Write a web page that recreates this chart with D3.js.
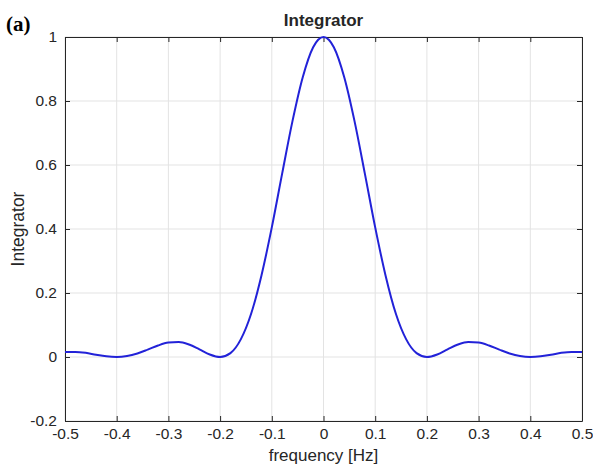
<!DOCTYPE html>
<html>
<head>
<meta charset="utf-8">
<script src="https://cdn.jsdelivr.net/npm/d3@7"></script>
<style>
  body { margin: 0; background: #fff; }
  svg text { font-family: "Liberation Sans", Arial, sans-serif; fill: #262626; }
</style>
</head>
<body>
<div id="chart"></div>
<script>
/**
 * CONSTANTS AND DATA
 * */
const width = 593,
  height = 469,
  margin = { top: 37, bottom: 48, left: 65, right: 11 };

// frequency samples [Hz] and the curve
const freq = [
  -0.50, -0.48, -0.46, -0.44, -0.42, -0.40, -0.38, -0.36, -0.34, -0.32,
  -0.30, -0.28, -0.26, -0.24, -0.22, -0.20, -0.18, -0.16, -0.14, -0.12,
  -0.10, -0.08, -0.06, -0.04, -0.02, 0.00, 0.02, 0.04, 0.06, 0.08,
  0.10, 0.12, 0.14, 0.16, 0.18, 0.20, 0.22, 0.24, 0.26, 0.28,
  0.30, 0.32, 0.34, 0.36, 0.38, 0.40, 0.42, 0.44, 0.46, 0.48, 0.50
];
const integrator = [
  0.016, 0.016, 0.013, 0.007, 0.002, 0.000, 0.003, 0.011, 0.023, 0.036,
  0.045, 0.047, 0.039, 0.024, 0.008, 0.000, 0.012, 0.055, 0.135, 0.255,
  0.405, 0.573, 0.737, 0.875, 0.968, 1.000, 0.968, 0.875, 0.737, 0.573,
  0.405, 0.255, 0.135, 0.055, 0.012, 0.000, 0.008, 0.024, 0.039, 0.047,
  0.045, 0.036, 0.023, 0.011, 0.003, 0.000, 0.002, 0.007, 0.013, 0.016, 0.016
];
const xTicks = [-0.5, -0.4, -0.3, -0.2, -0.1, 0, 0.1, 0.2, 0.3, 0.4, 0.5];
const yTicks = [-0.2, 0, 0.2, 0.4, 0.6, 0.8, 1];

const data = freq.map((f, i) => ({ f: f, v: integrator[i] }));

const svg = d3.select("#chart")
  .append("svg")
  .attr("width", width)
  .attr("height", height);

// SCALES
const xScale = d3.scaleLinear()
  .domain([-0.5, 0.5])
  .range([margin.left, width - margin.right]);

const yScale = d3.scaleLinear()
  .domain([-0.2, 1])
  .range([height - margin.bottom, margin.top]);

// plain hyphen for negatives, like the original
const fmt = d => String(+d.toFixed(1));

// grid lines
svg.append("g")
  .attr("class", "grid")
  .selectAll("line.gx")
  .data(xTicks)
  .join("line")
  .attr("x1", d => xScale(d)).attr("x2", d => xScale(d))
  .attr("y1", yScale.range()[0]).attr("y2", yScale.range()[1])
  .attr("stroke", "#e3e3e3");

svg.append("g")
  .attr("class", "grid")
  .selectAll("line.gy")
  .data(yTicks)
  .join("line")
  .attr("y1", d => yScale(d)).attr("y2", d => yScale(d))
  .attr("x1", xScale.range()[0]).attr("x2", xScale.range()[1])
  .attr("stroke", "#e3e3e3");

// AXES (ticks point inwards like matlab)
const xAxis = d3.axisBottom(xScale).tickValues(xTicks).tickSizeInner(-5).tickSizeOuter(0).tickPadding(7).tickFormat(fmt);
const xAxisTop = d3.axisTop(xScale).tickValues(xTicks).tickSizeInner(-5).tickSizeOuter(0).tickFormat("");
const yAxis = d3.axisLeft(yScale).tickValues(yTicks).tickSizeInner(-5).tickSizeOuter(0).tickPadding(8).tickFormat(fmt);
const yAxisRight = d3.axisRight(yScale).tickValues(yTicks).tickSizeInner(-5).tickSizeOuter(0).tickFormat("");

function styleAxis(g) {
  g.select(".domain").attr("stroke", "#262626");
  g.selectAll(".tick line").attr("stroke", "#262626");
  g.selectAll(".tick text").attr("font-size", 15.5).attr("fill", "#262626")
    .attr("font-family", "Liberation Sans, Arial, sans-serif");
}

svg.append("g")
  .attr("transform", `translate(0,${height - margin.bottom})`)
  .call(xAxis).call(styleAxis);
svg.append("g")
  .attr("transform", `translate(0,${margin.top})`)
  .call(xAxisTop).call(styleAxis);
svg.append("g")
  .attr("transform", `translate(${margin.left},0)`)
  .call(yAxis).call(styleAxis);
svg.append("g")
  .attr("transform", `translate(${width - margin.right},0)`)
  .call(yAxisRight).call(styleAxis);

// the curve
const lineFunc = d3.line()
  .x(d => xScale(d.f))
  .y(d => yScale(d.v))
  .curve(d3.curveMonotoneX);

svg.append("path")
  .datum(data)
  .attr("fill", "none")
  .attr("stroke", "#2222d8")
  .attr("stroke-width", 2)
  .attr("d", lineFunc);

// TEXTS
svg.append("text")
  .attr("x", (xScale.range()[0] + xScale.range()[1]) / 2)
  .attr("y", 26)
  .attr("text-anchor", "middle")
  .attr("font-size", 17)
  .attr("font-weight", "bold")
  .text("Integrator");

svg.append("text")
  .attr("x", (xScale.range()[0] + xScale.range()[1]) / 2)
  .attr("y", 461)
  .attr("text-anchor", "middle")
  .attr("font-size", 17)
  .text("frequency [Hz]");

svg.append("text")
  .attr("transform", `translate(24,${(yScale.range()[0] + yScale.range()[1]) / 2}) rotate(-90)`)
  .attr("text-anchor", "middle")
  .attr("font-size", 17.5)
  .text("Integrator");

svg.append("text")
  .attr("x", 6)
  .attr("y", 31)
  .style("font-family", "Liberation Serif, Times New Roman, serif")
  .style("fill", "#000")
  .attr("font-size", 21)
  .attr("font-weight", "bold")
  .text("(a)");
</script>
</body>
</html>
